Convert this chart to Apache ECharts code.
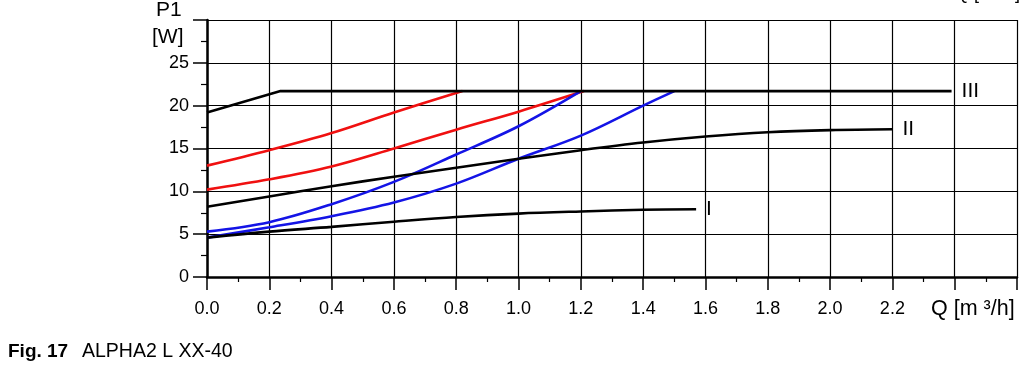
<!DOCTYPE html>
<html>
<head>
<meta charset="utf-8">
<script src="https://cdn.jsdelivr.net/npm/echarts@6/dist/echarts.min.js"></script>
<style>
html,body{margin:0;padding:0;background:#fff;}
#c{width:1023px;height:383px;}
</style>
</head>
<body>
<div id="c"></div>
<script>
// Tick labels
const xTicks = ['0.0','0.2','0.4','0.6','0.8','1.0','1.2','1.4','1.6','1.8','2.0','2.2'];
const yTicks = ['0','5','10','15','20','25'];

// Curve III (black, max speed)
const q3 = [0, 0.236, 2.39];
const p3 = [19.2, 21.7, 21.7];
// Curve II (black)
const q2 = [0, 0.2, 0.4, 0.6, 0.8, 1.0, 1.2, 1.4, 1.6, 1.8, 2.0, 2.2];
const p2 = [8.2, 9.4, 10.6, 11.7, 12.75, 13.8, 14.8, 15.7, 16.4, 16.9, 17.15, 17.25];
// Curve I (black)
const q1 = [0, 0.2, 0.4, 0.6, 0.8, 1.0, 1.2, 1.4, 1.57];
const p1 = [4.6, 5.3, 5.85, 6.45, 7.0, 7.4, 7.65, 7.85, 7.9];
// Red curves
const qRedA = [0, 0.2, 0.4, 0.6, 0.82];
const pRedA = [13.0, 14.8, 16.8, 19.2, 21.7];
const qRedB = [0, 0.2, 0.4, 0.6, 0.8, 1.0, 1.21];
const pRedB = [10.2, 11.4, 12.9, 15.0, 17.2, 19.3, 21.7];
// Blue curves
const qBlueA = [0, 0.2, 0.4, 0.6, 0.8, 1.0, 1.2];
const pBlueA = [5.3, 6.4, 8.5, 11.1, 14.3, 17.6, 21.7];
const qBlueB = [0, 0.2, 0.4, 0.6, 0.8, 1.0, 1.2, 1.4, 1.5];
const pBlueB = [4.6, 5.8, 7.1, 8.7, 10.9, 13.8, 16.5, 20.0, 21.7];

const curveLabels = ['III', 'II', 'I'];

const FONT = '"Liberation Sans", Arial, sans-serif';
const zip = (a, b) => a.map((v, i) => [v, b[i]]);

function mk(q, p, color, smooth, label) {
  const s = {
    type: 'line', data: zip(q, p), smooth: smooth, showSymbol: false, symbol: 'none',
    lineStyle: { color: color, width: 2.6 }, silent: true, animation: false
  };
  if (label) {
    s.endLabel = { show: true, formatter: label, color: '#000', fontSize: 21, fontFamily: FONT, distance: 10 };
  }
  return s;
}

const chart = echarts.init(document.getElementById('c'), null, { renderer: 'canvas' });
chart.setOption({
  animation: false,
  backgroundColor: '#fff',
  grid: { left: 207, right: 6, top: 20, bottom: 106, containLabel: false },
  xAxis: {
    type: 'value', min: 0, max: 2.6, interval: 0.2,
    axisLine: { show: true, lineStyle: { color: '#000', width: 2.5 } },
    axisTick: { show: true, length: 13, lineStyle: { color: '#000', width: 1.5 } },
    minorTick: { show: true, splitNumber: 2, length: 5, lineStyle: { color: '#000', width: 1.2 } },
    splitLine: { show: true, lineStyle: { color: '#000', width: 1.2 } },
    axisLabel: {
      margin: 23, color: '#000', fontSize: 18, fontFamily: FONT,
      formatter: (v) => { const i = Math.round(v / 0.2); return i < xTicks.length ? xTicks[i] : ''; }
    }
  },
  yAxis: {
    type: 'value', min: 0, max: 30, interval: 5,
    axisLine: { show: true, lineStyle: { color: '#000', width: 2.5 } },
    axisTick: { show: true, length: 14, lineStyle: { color: '#000', width: 1.5 } },
    minorTick: { show: true, splitNumber: 2, length: 6, lineStyle: { color: '#000', width: 1.2 } },
    splitLine: { show: true, lineStyle: { color: '#000', width: 1.2 } },
    axisLabel: {
      margin: 18, color: '#000', fontSize: 18, fontFamily: FONT,
      formatter: (v) => { const i = Math.round(v / 5); return i < yTicks.length ? yTicks[i] : ''; }
    }
  },
  series: [
    mk(qRedA, pRedA, '#f01010', 0.35),
    mk(qRedB, pRedB, '#f01010', 0.35),
    mk(qBlueA, pBlueA, '#1414e6', 0.35),
    mk(qBlueB, pBlueB, '#1414e6', 0.35),
    mk(q1, p1, '#000', 0.35, curveLabels[2]),
    mk(q2, p2, '#000', 0.35, curveLabels[1]),
    mk(q3, p3, '#000', false, curveLabels[0])
  ],
  graphic: [
    { type: 'text', left: 156, top: 0, style: { text: 'P1', font: '21px ' + FONT, fill: '#000' } },
    { type: 'text', left: 152, top: 27, style: { text: '[W]', font: '21px ' + FONT, fill: '#000' } },
    { type: 'text', left: 931, top: 298, style: { text: 'Q [m ³/h]', font: '21.5px ' + FONT, fill: '#000' } },
    { type: 'text', left: 955, top: -15, style: { text: 'Q [m³/h]', font: '18px ' + FONT, fill: '#000' } },
    { type: 'text', left: 8, top: 342, style: { text: 'Fig. 17', font: 'bold 19px ' + FONT, fill: '#000' } },
    { type: 'text', left: 82, top: 342, style: { text: 'ALPHA2 L XX-40', font: '19.5px ' + FONT, fill: '#000' } }
  ]
});
</script>
</body>
</html>
